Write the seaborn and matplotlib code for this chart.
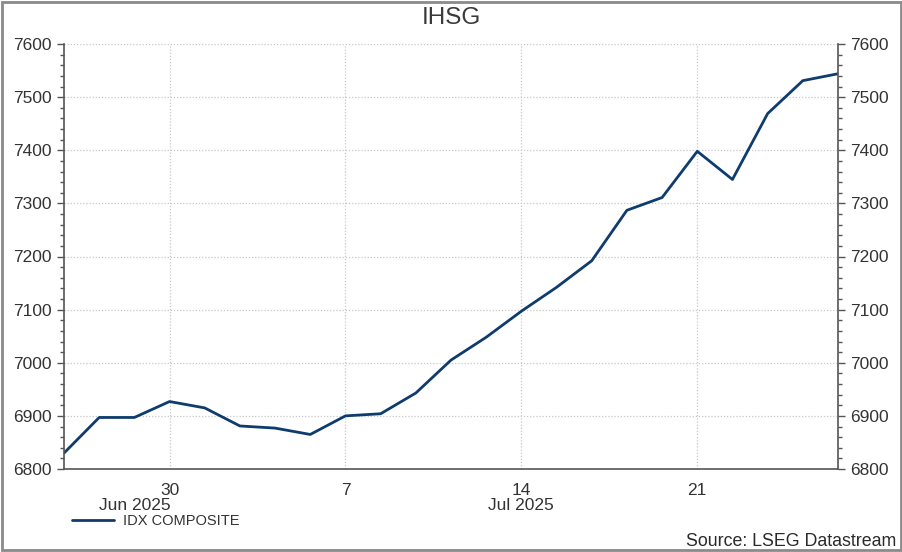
import matplotlib
matplotlib.use("Agg")
import matplotlib.pyplot as plt
import seaborn as sns
import numpy as np
import pandas as pd
from matplotlib.ticker import FixedLocator, MultipleLocator
from matplotlib.patches import Rectangle
import matplotlib.transforms as mtransforms

# ---- data (business days) ----
dates = ["2025-06-25", "2025-06-26", "2025-06-27", "2025-06-30",
         "2025-07-01", "2025-07-02", "2025-07-03", "2025-07-04",
         "2025-07-07", "2025-07-08", "2025-07-09", "2025-07-10", "2025-07-11",
         "2025-07-14", "2025-07-15", "2025-07-16", "2025-07-17", "2025-07-18",
         "2025-07-21", "2025-07-22", "2025-07-23", "2025-07-24", "2025-07-25"]
values = [6830, 6897, 6897, 6927,
          6915, 6881, 6877, 6865,
          6900, 6904, 6943, 7005, 7048,
          7097, 7142, 7192, 7287, 7311,
          7398, 7345, 7469, 7531, 7544]
week_tick_labels = ["30", "7", "14", "21"]
month_labels = ["Jun 2025", "Jul 2025"]
month_label_dates = ["2025-06-27", "2025-07-14"]
y_ticks = [6800, 6900, 7000, 7100, 7200, 7300, 7400, 7500, 7600]
series_name = "IDX COMPOSITE"
title_text = "IHSG"
source_text = "Source: LSEG Datastream"

sns.set_theme(style="white")
plt.rcParams['font.family'] = ['Liberation Sans', 'DejaVu Sans']

df = pd.DataFrame({"date": pd.to_datetime(dates), "value": values})
df["pos"] = np.arange(len(df))

line_color = "#0f3c6e"
text_color = "#333333"
spine_color = "#555555"

fig = plt.figure(figsize=(9.03, 5.52), dpi=100)
ax = fig.add_axes([64 / 903, 1 - 469 / 552, (838 - 64) / 903, (469 - 44) / 552])

sns.lineplot(data=df, x="pos", y="value", ax=ax, color=line_color,
             linewidth=2.0, label=series_name, legend=False)

ax.set_xlim(df["pos"].iloc[0], df["pos"].iloc[-1])
ax.set_ylim(y_ticks[0], y_ticks[-1])

# x ticks: Mondays as majors, every business day as minor
monday_pos = df.loc[df["date"].dt.weekday == 0, "pos"].tolist()
ax.xaxis.set_major_locator(FixedLocator(monday_pos))
ax.set_xticklabels(week_tick_labels)
ax.xaxis.set_minor_locator(FixedLocator(df["pos"].tolist()))
ax.set_yticks(y_ticks)
ax.yaxis.set_minor_locator(MultipleLocator(20))

ax.tick_params(axis="x", which="major", direction="out", length=5, width=1,
               color=spine_color, labelsize=12.5, labelcolor=text_color, pad=5)
ax.tick_params(axis="x", which="minor", direction="out", length=3, width=1,
               color=spine_color)
ax.tick_params(axis="y", which="major", direction="out", length=5, width=1,
               color=spine_color, labelsize=12.5, labelcolor=text_color, pad=4,
               left=True, right=True, labelleft=True, labelright=True)
ax.tick_params(axis="y", which="minor", direction="out", length=3, width=1,
               color=spine_color, left=True, right=True)
ax.set_xlabel("")
ax.set_ylabel("")

ax.grid(True, which="major", linestyle=(0, (1, 1.5)), color="#c8c8c8", linewidth=0.9)
ax.set_axisbelow(True)

for side in ["left", "right", "bottom"]:
    ax.spines[side].set_visible(True)
    ax.spines[side].set_color(spine_color)
    ax.spines[side].set_linewidth(1.2)
ax.spines["top"].set_visible(False)

# month labels under the day labels
trans = mtransforms.blended_transform_factory(ax.transData, fig.transFigure)
for lbl, d in zip(month_labels, month_label_dates):
    p = df.loc[df["date"] == pd.Timestamp(d), "pos"].iloc[0]
    ax.text(p, 1 - 505 / 552, lbl, transform=trans, ha="center", va="center",
            fontsize=12.5, color=text_color)

# title
fig.text(0.5, 1 - 18 / 552, title_text, ha="center", va="center",
         fontsize=17.5, color="#3a3a3a")

# legend (manual, figure-level)
handles, labels = ax.get_legend_handles_labels()
fig.legend(handles, labels, loc="center left",
           bbox_to_anchor=(72 / 903, 1 - 521 / 552), frameon=False,
           fontsize=10.5, handlelength=2.9, handletextpad=0.6, borderpad=0,
           borderaxespad=0, labelcolor=text_color)

# source
fig.text(1 - 7 / 903, 1 - 541 / 552, source_text, ha="right", va="center",
         fontsize=12.8, color="#2a2a2a")

# outer frame
fig.patches.append(Rectangle((0.002, 0.003), 0.996, 0.994, transform=fig.transFigure,
                             fill=False, edgecolor="#8a8a8a", linewidth=2))

fig.savefig("out.png", dpi=100)
